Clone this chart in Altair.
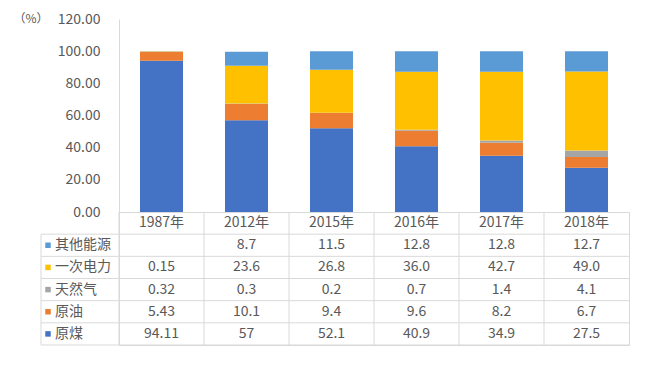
import altair as alt
import pandas as pd

years = ["1987年", "2012年", "2015年", "2016年", "2017年", "2018年"]
series = ["原煤", "原油", "天然气", "一次电力", "其他能源"]
coal = ["94.11", "57", "52.1", "40.9", "34.9", "27.5"]
oil = ["5.43", "10.1", "9.4", "9.6", "8.2", "6.7"]
gas = ["0.32", "0.3", "0.2", "0.7", "1.4", "4.1"]
power = ["0.15", "23.6", "26.8", "36.0", "42.7", "49.0"]
other = ["", "8.7", "11.5", "12.8", "12.8", "12.7"]
colors = ["#4472C4", "#ED7D31", "#A5A5A5", "#FFC000", "#5B9BD5"]
y_ticks = [0, 20, 40, 60, 80, 100, 120]
table_rows = ["其他能源", "一次电力", "天然气", "原油", "原煤"]

FONT = "Noto Sans CJK SC"
TXT = "#595959"
LINE = "#d9d9d9"

values = {"原煤": coal, "原油": oil, "天然气": gas, "一次电力": power, "其他能源": other}

bar_rows = []
for i, s in enumerate(series):
    for y, v in zip(years, values[s]):
        if v != "":
            bar_rows.append({"year": y, "series": s, "value": float(v), "idx": i})
bar_df = pd.DataFrame(bar_rows)

ydom = ["hdr"] + table_rows
tab_rows = [{"year": y, "row": "hdr", "text": y} for y in years]
for s in table_rows:
    for y, v in zip(years, values[s]):
        tab_rows.append({"year": y, "row": s, "text": v})
tab_df = pd.DataFrame(tab_rows)
lab_df = pd.DataFrame({"row": table_rows, "series": table_rows})
hline_df = pd.DataFrame({"row": ydom})
vline_df = pd.DataFrame({"year": years})

color_scale = alt.Scale(domain=series, range=colors)

bars = alt.Chart(bar_df).mark_bar().encode(
    x=alt.X("year:N", sort=years,
            scale=alt.Scale(paddingInner=0.494, paddingOuter=0.247), axis=None),
    y=alt.Y("value:Q", stack="zero",
            scale=alt.Scale(domain=[0, 120], nice=False),
            axis=alt.Axis(values=y_ticks, format=".2f", title="（%）", titleAngle=0,
                          titleAlign="left", titleBaseline="middle", titleX=-106, titleY=-1,
                          grid=False, ticks=False, domainColor=LINE, labelColor=TXT,
                          labelFontSize=14, titleColor=TXT, titleFontWeight="normal",
                          titleFontSize=12, labelPadding=19)),
    color=alt.Color("series:N", scale=color_scale, legend=None),
    order=alt.Order("idx:Q", sort="ascending"),
).properties(width=510, height=193, view=alt.ViewBackground(strokeOpacity=0))

xs = alt.Scale(domain=years, paddingInner=0, paddingOuter=0)
ys = alt.Scale(domain=ydom, paddingInner=0, paddingOuter=0)

text = alt.Chart(tab_df).mark_text(fontSize=14, color=TXT, font=FONT).encode(
    x=alt.X("year:N", sort=years, scale=xs, axis=None),
    y=alt.Y("row:N", sort=ydom, scale=ys, axis=None),
    text="text:N")
labels = alt.Chart(lab_df).mark_text(fontSize=14, color=TXT, font=FONT, align="left").encode(
    x=alt.value(-64), y=alt.Y("row:N", sort=ydom, scale=ys, axis=None), text="row:N")
squares = alt.Chart(lab_df).mark_square(size=30, opacity=1).encode(
    x=alt.value(-71), y=alt.Y("row:N", sort=ydom, scale=ys, axis=None),
    color=alt.Color("series:N", scale=color_scale, legend=None))
hlines = alt.Chart(hline_df).mark_rule(color=LINE, strokeWidth=1).encode(
    y=alt.Y("row:N", sort=ydom, scale=ys, axis=None, bandPosition=1),
    x=alt.value(-78), x2=alt.value(510))
vlines = alt.Chart(vline_df).mark_rule(color=LINE, strokeWidth=1).encode(
    x=alt.X("year:N", sort=years, scale=xs, axis=None, bandPosition=0),
    y=alt.value(0), y2=alt.value(133))
border = alt.Chart(pd.DataFrame({"a": [0]})).mark_rule(color=LINE, strokeWidth=1).encode(
    x=alt.value(-78), y=alt.value(22.2), y2=alt.value(133))

table = alt.layer(hlines, vlines, border, text, labels, squares).properties(
    width=510, height=133, view=alt.ViewBackground(stroke=LINE, strokeOpacity=1))

chart = alt.vconcat(bars, table, spacing=0, bounds="flush").properties(
    padding={"left": 5, "top": 4, "right": 5, "bottom": 5}
).configure_axis(labelFont=FONT, titleFont=FONT).configure_view(stroke=LINE)

chart.save("out.html", embed_options={"renderer": "svg", "actions": False})
